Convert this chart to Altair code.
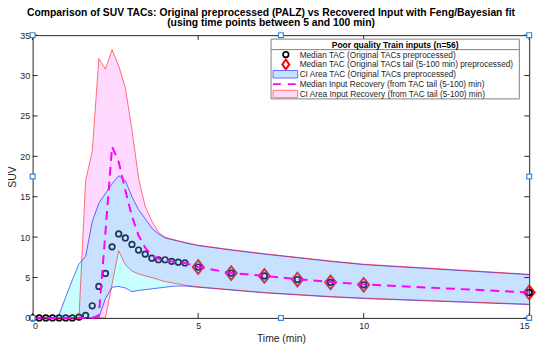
import altair as alt
import pandas as pd

# ---------------- data ----------------
t = [0, 0.2, 0.4, 0.6, 0.8, 1.0, 1.2, 1.4, 1.6, 1.8, 2.0, 2.2, 2.4, 2.6, 2.8, 3.0,
     3.2, 3.4, 3.6, 3.8, 4.0, 4.2, 4.4, 4.6, 5, 6, 7, 8, 9, 10, 15]

median_tac = [0, 0, 0, 0, 0, 0, 0, 0.1, 0.3, 1.5, 3.9, 5.5, 8.8, 10.4, 9.9, 9.1,
              8.4, 7.9, 7.4, 7.2, 7.2, 7.0, 6.9, 6.8, 6.3, 5.55, 5.2, 4.75, 4.4, 4.1, 3.15]

tac_ci_lo = [0, 0, 0, 0, 0, 0, 0, 0, 0, 0, 0, 2.4, 3.8, 3.9, 3.7, 3.25,
             3.4, 3.5, 3.6, 3.7, 3.8, 3.9, 3.95, 3.95, 3.8, 3.45, 3.1, 2.85, 2.6, 2.4, 1.65]
tac_ci_hi = [0, 0, 0, 0, 0.4, 2.6, 4.7, 6.7, 7.6, 11.9, 14.2, 15.4, 16.6, 17.6, 17.0, 15.0,
             13.4, 12.3, 11.1, 10.4, 9.9, 9.7, 9.5, 9.3, 8.95, 8.4, 7.9, 7.45, 7.0, 6.6, 5.35]

input_median = [0, 0, 0, 0, 0, 0, 0, 0, 0, 0, 0.3, 10.6, 21.2, 19.3, 15.8, 12.6,
                10.2, 8.7, 7.7, 7.3, 7.1, 7.0, 6.9, 6.8, 6.3, 5.55, 5.2, 4.8, 4.45, 4.15, 3.15]
input_ci_lo = [0, 0, 0, 0, 0, 0, 0, 0, 0, 0, 0, 0, 4.2, 8.3, 6.6, 5.8,
               5.45, 5.2, 5.0, 4.75, 4.5, 4.35, 4.2, 4.05, 3.85, 3.5, 3.15, 2.9, 2.65, 2.45, 1.7]
input_ci_hi = [0, 0, 0, 0, 0, 0, 0, 0, 17.0, 20.6, 32.1, 30.8, 33.2, 31.2, 28.5, 23.3,
               17.3, 13.8, 12.0, 10.6, 10.0, 9.75, 9.55, 9.35, 9.0, 8.45, 7.95, 7.5, 7.05, 6.65, 5.4]

tail_t = [5, 6, 7, 8, 9, 10, 15]
tail_v = [6.3, 5.55, 5.2, 4.75, 4.4, 4.1, 3.15]

x_ticks = [0, 5, 10, 15]
y_ticks = [0, 5, 10, 15, 20, 25, 30, 35]

handle_x = [0, 7.5, 15, 0, 15, 0, 7.5, 15]
handle_y = [0, 0, 0, 17.5, 17.5, 35, 35, 35]

title_lines = ["Comparison of SUV TACs: Original preprocessed (PALZ) vs Recovered Input with Feng/Bayesian fit",
               "(using time points between 5 and 100 min)"]
legend_header = "Poor quality Train inputs (n=56)"
legend_labels = ["Median TAC (Original TACs preprocessed)",
                 "Median TAC (Original TACs tail (5-100 min) preprocessed)",
                 "CI Area TAC (Original TACs preprocessed)",
                 "Median Input Recovery (from TAC tail (5-100) min)",
                 "CI Area Input Recovery (from TAC tail (5-100) min)"]

# ---------------- layout / style ----------------
W, H = 504, 287
FONT = "Liberation Sans"
AXC = "#262626"
DIAMOND = "M0,-1L0.8,0L0,1L-0.8,0Z"

df = pd.DataFrame({"t": t, "med": median_tac, "tlo": tac_ci_lo, "thi": tac_ci_hi,
                   "imed": input_median, "ilo": input_ci_lo, "ihi": input_ci_hi})
tail_df = pd.DataFrame({"t": tail_t, "v": tail_v})
xt_df = pd.DataFrame({"v": x_ticks})
yt_df = pd.DataFrame({"v": y_ticks})
hd_df = pd.DataFrame({"x": handle_x, "y": handle_y})

xs = alt.Scale(domain=[0, 15], nice=False, zero=False)
ys = alt.Scale(domain=[0, 35], nice=False, zero=False)
x_axis = alt.Axis(values=x_ticks, format="d", title="Time (min)", ticks=False, domain=False,
                  grid=False, labelPadding=4, titlePadding=3)
y_axis = alt.Axis(values=y_ticks, format="d", title="SUV", ticks=False, domain=False,
                  grid=False, labelPadding=3, titlePadding=2)


def X(f):
    return alt.X(f, scale=xs, axis=x_axis, title="Time (min)")


def Y(f):
    return alt.Y(f, scale=ys, axis=y_axis, title="SUV")


base = alt.Chart(df)

diamonds = alt.Chart(tail_df).mark_point(shape=DIAMOND, size=190, stroke="#ff0000",
                                         strokeWidth=2, filled=False, opacity=1).encode(
    x=X("t:Q"), y=Y("v:Q"))
circles = base.mark_point(shape="circle", size=32, stroke="#000000", strokeWidth=1.7,
                          filled=False, opacity=1).encode(x=X("t:Q"), y=Y("med:Q"))

pink = base.mark_area(fill="#ff00ff", fillOpacity=0.15).encode(x=X("t:Q"), y=Y("ilo:Q"), y2="ihi:Q")
cyan = base.mark_area(fill="#00ffff", fillOpacity=0.22).encode(x=X("t:Q"), y=Y("tlo:Q"), y2="thi:Q")

blue_hi = base.mark_line(color="#0000ff", opacity=0.58, strokeWidth=1).encode(x=X("t:Q"), y=Y("thi:Q"))
blue_lo = base.mark_line(color="#0000ff", opacity=0.58, strokeWidth=1).encode(x=X("t:Q"), y=Y("tlo:Q"))
red_hi = base.mark_line(color="#ff0000", opacity=0.55, strokeWidth=1).encode(x=X("t:Q"), y=Y("ihi:Q"))
red_lo = base.mark_line(color="#ff0000", opacity=0.55, strokeWidth=1).encode(x=X("t:Q"), y=Y("ilo:Q"))

dashed = base.mark_line(color="#ff00ff", strokeWidth=2, strokeDash=[9, 6]).encode(
    x=X("t:Q"), y=Y("imed:Q"))

# inward ticks (box style)
tk_bottom = alt.Chart(xt_df).mark_rule(color=AXC, strokeWidth=1).encode(
    x=X("v:Q"), y=alt.value(H), y2=alt.value(H - 5))
tk_top = alt.Chart(xt_df).mark_rule(color=AXC, strokeWidth=1).encode(
    x=X("v:Q"), y=alt.value(0), y2=alt.value(5))
tk_left = alt.Chart(yt_df).mark_rule(color=AXC, strokeWidth=1).encode(
    y=Y("v:Q"), x=alt.value(0), x2=alt.value(5))
tk_right = alt.Chart(yt_df).mark_rule(color=AXC, strokeWidth=1).encode(
    y=Y("v:Q"), x=alt.value(W - 5), x2=alt.value(W))

handles = alt.Chart(hd_df).mark_point(shape="square", size=24, filled=True, fill="white",
                                      stroke="#3d85d8", strokeWidth=1.2, opacity=1).encode(
    x=X("x:Q"), y=Y("y:Q"))

# ---------------- legend (drawn manually) ----------------
one = alt.Data(values=[{"k": 1}])
LX0, LX1 = 242, 494
LY0 = 4
SEP = LY0 + 10.7
ROW0 = SEP + 5
DY = 10
LY1 = SEP + 50
ICX0, ICX1 = 244, 269
ICC = 257
TX = 271
LFS = 8.4

legend_layers = [
    alt.Chart(one).mark_rect(fill="white", stroke="#808080", strokeWidth=1).encode(
        x=alt.value(LX0), x2=alt.value(LX1), y=alt.value(LY0), y2=alt.value(LY1)),
    alt.Chart(one).mark_rule(color="#808080", strokeWidth=1).encode(
        x=alt.value(LX0), x2=alt.value(LX1), y=alt.value(SEP)),
    alt.Chart(one).mark_text(font=FONT, fontSize=8.6, fontWeight="bold", color="#000",
                             align="center", baseline="middle").encode(
        x=alt.value((LX0 + LX1) / 2), y=alt.value((LY0 + SEP) / 2 + 0.5), text=alt.value(legend_header)),
]
rows = [ROW0 + i * DY for i in range(5)]
legend_layers += [
    alt.Chart(one).mark_point(shape="circle", size=32, stroke="#000", strokeWidth=1.7,
                              filled=False, opacity=1).encode(x=alt.value(ICC), y=alt.value(rows[0])),
    alt.Chart(one).mark_point(shape="M0,-1L0.7,0L0,1L-0.7,0Z", size=100, stroke="#ff0000",
                              strokeWidth=2, filled=False, opacity=1).encode(x=alt.value(ICC), y=alt.value(rows[1])),
    alt.Chart(one).mark_rect(fill="#c4e4ff", stroke="#6a6aff", strokeWidth=1).encode(
        x=alt.value(ICX0), x2=alt.value(ICX1), y=alt.value(rows[2] - 3.8), y2=alt.value(rows[2] + 3.8)),
    alt.Chart(one).mark_rule(color="#ff00ff", strokeWidth=2, strokeDash=[8, 7]).encode(
        x=alt.value(ICX0), x2=alt.value(ICX1), y=alt.value(rows[3])),
    alt.Chart(one).mark_rect(fill="#ffd8f8", stroke="#ff7070", strokeWidth=1).encode(
        x=alt.value(ICX0), x2=alt.value(ICX1), y=alt.value(rows[4] - 3.8), y2=alt.value(rows[4] + 3.8)),
]
for i, lab in enumerate(legend_labels):
    legend_layers.append(
        alt.Chart(one).mark_text(font=FONT, fontSize=LFS, color=AXC, align="left",
                                 baseline="middle").encode(
            x=alt.value(TX), y=alt.value(rows[i]), text=alt.value(lab)))

chart = alt.layer(
    diamonds, circles, pink, cyan, blue_hi, blue_lo, red_hi, red_lo, dashed,
    tk_bottom, tk_top, tk_left, tk_right, handles, *legend_layers
).properties(
    width=W, height=H,
    title=alt.TitleParams(text=title_lines, font=FONT, fontSize=10.5, fontWeight="bold",
                          color="#000", lineHeight=10.5, offset=2, dx=-10, anchor="middle"),
    autosize=alt.AutoSizeParams(type="none"),
    padding={"left": 25, "top": 25, "right": 13, "bottom": 30},
).configure_view(
    stroke=AXC, strokeWidth=1
).configure_axis(
    labelFont=FONT, labelFontSize=9, labelColor=AXC,
    titleFont=FONT, titleFontSize=10.5, titleColor=AXC, titleFontWeight="normal",
)

chart.save("out.html", embed_options={"renderer": "svg", "actions": False})
